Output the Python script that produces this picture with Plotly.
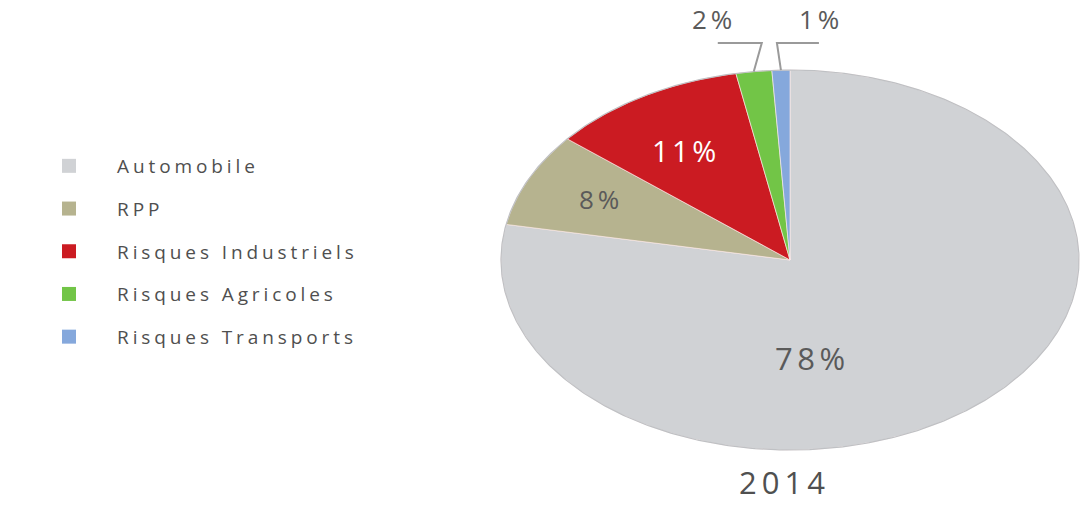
import numpy as np
import plotly.graph_objects as go

# ---------------- data ----------------
categories = ["Automobile", "RPP", "Risques Industriels", "Risques Agricoles", "Risques Transports"]
values = [78, 8, 11, 2, 1]
pct_labels = ["78%", "8%", "11%", "2%", "1%"]
year_label = "2014"

# ---------------- style ----------------
colors = ["#d0d2d5", "#b6b38f", "#cb1b22", "#72c547", "#85a8dc"]
label_colors = ["#5a5a5a", "#5a5a5a", "#ffffff", "#5a5a5a", "#5a5a5a"]
FONT = "Open Sans"
W, H = 1080, 507
CX, CY, RX, RY = 790, 260, 289, 190   # ellipse centre and radii (pixels)

# label placement (pixel centres) and sizes
label_pos = [(812, 358), (601, 199), (686, 150), (714, 19), (821, 19)]
label_size = [31, 26, 29, 26, 26]
label_spacing = [4.5, 4, 3.5, 4, 4]
leader = {3: (8, -44), 4: (-4, 42)}     # elbow dx, horizontal length (pixels)
LEADER_Y = 43


def ls(text, px):
    return f'<span style="letter-spacing:{px}px">{text}</span>'


def px_to_unit(px, py):
    return (px - CX) / RX, (CY - py) / RY


fig = go.Figure()

total = float(sum(values))
cum = np.concatenate([[0.0], np.cumsum(values)]) / total
theta = 2 * np.pi * cum  # clockwise from 12 o'clock

for i, cat in enumerate(categories):
    n = max(int(400 * (cum[i + 1] - cum[i])), 3)
    t = np.linspace(theta[i], theta[i + 1], n)
    xs = np.concatenate([[0], np.sin(t), [0]])
    ys = np.concatenate([[0], np.cos(t), [0]])
    fig.add_trace(go.Scatter(
        x=xs, y=ys, mode="lines", fill="toself", fillcolor=colors[i],
        line=dict(color="rgba(255,235,235,0.8)", width=0.8),
        hoverinfo="text", text=f"{cat}: {pct_labels[i]}",
        showlegend=False))

# rim shadow
t = np.linspace(0, 2 * np.pi, 600)
fig.add_trace(go.Scatter(x=np.sin(t), y=np.cos(t), mode="lines",
                         line=dict(color="#bfc1c4", width=1.2),
                         hoverinfo="skip", showlegend=False))

# leader lines for small slices
for i, (dx, hl) in leader.items():
    mid = (theta[i] + theta[i + 1]) / 2
    ex, ey = np.sin(mid), np.cos(mid)
    epx, epy = CX + ex * RX, CY - ey * RY
    p1 = px_to_unit(epx + dx, LEADER_Y)
    p2 = px_to_unit(epx + dx + hl, LEADER_Y)
    fig.add_trace(go.Scatter(x=[ex, p1[0], p2[0]], y=[ey, p1[1], p2[1]],
                             mode="lines", line=dict(color="#9a9a9a", width=2),
                             hoverinfo="skip", showlegend=False))

# legend entries
for i, cat in enumerate(categories):
    fig.add_trace(go.Scatter(
        x=[None], y=[None], mode="markers",
        marker=dict(symbol="square", size=14, color=colors[i]),
        name=ls(cat, 3.9), legendgroup=cat, showlegend=True))

annotations = []
for i, lab in enumerate(pct_labels):
    ux, uy = px_to_unit(*label_pos[i])
    annotations.append(dict(
        x=ux, y=uy, xref="x", yref="y", text=ls(lab, label_spacing[i]),
        showarrow=False, xanchor="center", yanchor="middle",
        font=dict(family=FONT, size=label_size[i], color=label_colors[i])))
ux, uy = px_to_unit(784, 482)
annotations.append(dict(x=ux, y=uy, xref="x", yref="y", text=ls(year_label, 5),
                        showarrow=False, xanchor="center", yanchor="middle",
                        font=dict(family=FONT, size=31, color="#505050")))

fig.update_layout(
    width=W, height=H,
    margin=dict(l=0, r=0, t=0, b=0),
    paper_bgcolor="white", plot_bgcolor="white",
    xaxis=dict(range=[-CX / RX, (W - CX) / RX], visible=False, fixedrange=True),
    yaxis=dict(range=[-(H - CY) / RY, CY / RY], visible=False, fixedrange=True),
    legend=dict(x=21 / W, y=1 - 147 / H, xanchor="left", yanchor="top",
                tracegroupgap=15, itemwidth=86, bgcolor="rgba(0,0,0,0)",
                font=dict(family=FONT, size=19, color="#4f4f4f")),
    annotations=annotations,
    font=dict(family=FONT),
)

fig.write_html(
    "out.html",
    config={"displayModeBar": False},
    post_script="document.body.style.margin='0';document.body.style.padding='0';"
                "document.documentElement.style.overflow='hidden';",
)
